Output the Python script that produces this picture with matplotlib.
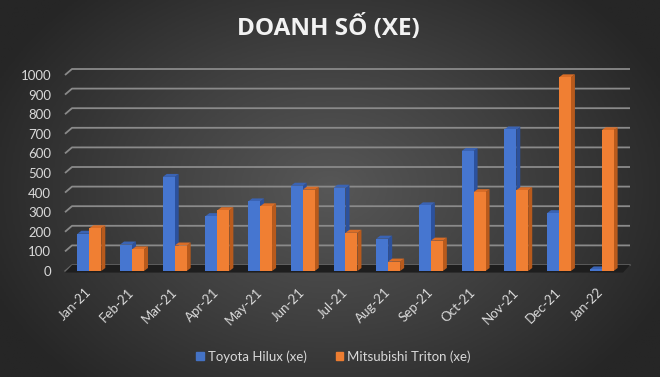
import numpy as np
import matplotlib
matplotlib.use("Agg")
import matplotlib.pyplot as plt
from matplotlib.colors import LinearSegmentedColormap
from matplotlib.patches import Patch

months = ["Jan-21", "Feb-21", "Mar-21", "Apr-21", "May-21", "Jun-21", "Jul-21",
          "Aug-21", "Sep-21", "Oct-21", "Nov-21", "Dec-21", "Jan-22"]
hilux = [190, 135, 480, 280, 355, 435, 425, 165, 335, 612, 722, 295, 8]
triton = [218, 110, 130, 310, 330, 415, 195, 48, 155, 402, 412, 988, 718]
yticks = [0, 100, 200, 300, 400, 500, 600, 700, 800, 900, 1000]

W, H = 660, 377
fig = plt.figure(figsize=(W / 100, H / 100), dpi=100)

# background radial gradient
bg = fig.add_axes([0, 0, 1, 1], zorder=-10)
yy, xx = np.mgrid[0:1:200j, 0:1:350j]
r = np.sqrt(((xx - 0.5) / 0.75) ** 2 + ((yy - 0.5) / 0.95) ** 2)
cmap = LinearSegmentedColormap.from_list("bg", ["#575757", "#404040", "#262626"])
bg.imshow(r, cmap=cmap, aspect="auto", extent=[0, 1, 0, 1], vmin=0, vmax=0.75)
bg.set_axis_off()

# plot area (front plane)
left, right = 65, 623
bottom, top = 271, 75
ax = fig.add_axes([left / W, (H - bottom) / H, (right - left) / W, (bottom - top) / H])
ax.patch.set_alpha(0)
x0, x1 = -0.57, 12.5
ax.set_xlim(x0, x1)
ax.set_ylim(0, 1000)
for s in ax.spines.values():
    s.set_visible(False)

pxx = (right - left) / (x1 - x0)      # pixels per x unit
pxy = (bottom - top) / 1000            # pixels per y unit

# back wall gridlines + floor
gdx, gdy = 7 / pxx, 6 / pxy
for v in yticks[1:]:
    ax.plot([x0, x0 + gdx, x1 + gdx], [v, v + gdy, v + gdy], color="#8a8a8a",
            lw=1.3, zorder=1, clip_on=False, solid_capstyle="butt")
ax.fill([x0, x1, x1 + gdx, x0 + gdx], [-8, -8, gdy, gdy], color="#1e1e1e",
        zorder=1.5, clip_on=False, lw=0)
ax.plot([x0, x0 + gdx, x1 + gdx], [0, gdy, gdy], color="#6a6a6a", lw=1,
        zorder=1.4, clip_on=False)

# 3d-looking bars
bw = 0.28
ddx, ddy = 4 / pxx, 3 / pxy
x = np.arange(len(months))


def bars3d(xc, vals, front, side, topc, z):
    for xi, v in zip(xc, vals):
        xr = xi + bw / 2
        xl = xi - bw / 2
        ax.fill([xr, xr + ddx, xr + ddx, xr], [0, ddy, v + ddy, v],
                color=side, lw=0, zorder=z, clip_on=False)
        ax.fill([xl, xr, xr + ddx, xl + ddx], [v, v, v + ddy, v + ddy],
                color=topc, lw=0, zorder=z, clip_on=False)
    ax.bar(xc, vals, width=bw, color=front, zorder=z + 0.1, lw=0, clip_on=False)


bars3d(x - bw / 2, hilux, "#4676d0", "#2c519c", "#3a63b4", 2)
bars3d(x + bw / 2, triton, "#f07f33", "#b85a1c", "#d96d27", 3)

# axis labels
ax.set_xticks([])
ax.set_yticks(yticks)
ax.set_yticklabels([str(v) for v in yticks], fontsize=9.5, color="#d9d9d9",
                   family="Lato")
ax.tick_params(axis="y", length=0, pad=10)

for xi, m in zip(x, months):
    ax.annotate(m, (xi, 0), xytext=(0, -19), textcoords="offset pixels",
                rotation=45, ha="right", va="center", rotation_mode="anchor",
                fontsize=9.5, color="#d9d9d9", family="Lato")

fig.text(0.498, 0.925, "DOANH SỐ (XE)", ha="center", va="center",
         fontsize=17.5, fontweight="bold", color="#f2f2f2", family="Open Sans")

handles = [Patch(color="#4472c4", label="Toyota Hilux (xe)"),
           Patch(color="#ed7d31", label="Mitsubishi Triton (xe)")]
fig.legend(handles=handles, loc="center", bbox_to_anchor=(0.505, 0.055),
           ncol=2, frameon=False, fontsize=9.5, labelcolor="#d9d9d9",
           prop={"family": "Lato", "size": 9.5}, handlelength=0.6,
           handleheight=0.6, handletextpad=0.3, columnspacing=2.2)

fig.savefig("out.png", dpi=100)
